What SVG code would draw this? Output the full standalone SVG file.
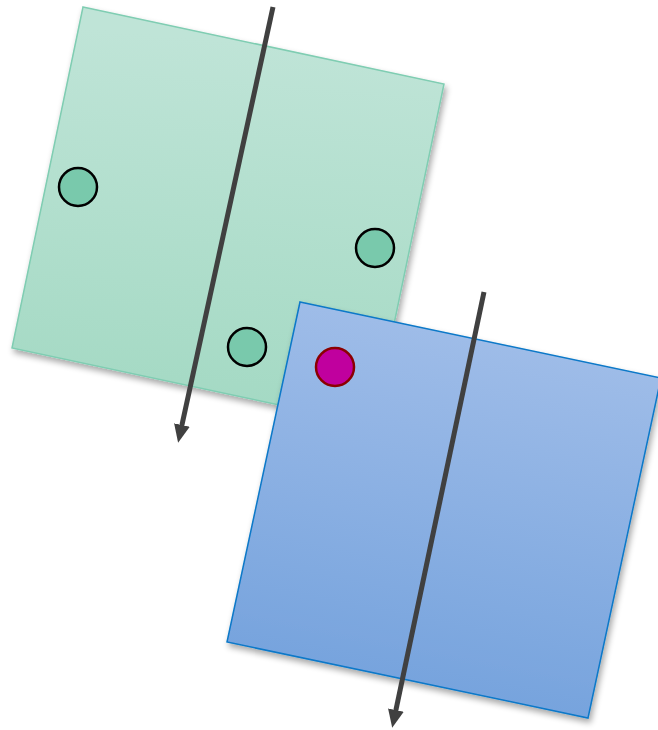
<svg xmlns="http://www.w3.org/2000/svg" width="658" height="730" viewBox="0 0 658 730">
<defs>
<linearGradient id="gG" gradientUnits="userSpaceOnUse" x1="230" y1="40" x2="200" y2="420">
<stop offset="0" stop-color="#BFE4D7"/><stop offset="1" stop-color="#A3D9C3"/>
</linearGradient>
<linearGradient id="gB" gradientUnits="userSpaceOnUse" x1="480" y1="340" x2="410" y2="690">
<stop offset="0" stop-color="#9EBCE8"/><stop offset="1" stop-color="#76A3DD"/>
</linearGradient>
<filter id="sh" x="-10%" y="-10%" width="125%" height="125%">
<feGaussianBlur in="SourceAlpha" stdDeviation="3"/>
<feOffset dx="2" dy="4" result="b"/>
<feComponentTransfer><feFuncA type="linear" slope="0.35"/></feComponentTransfer>
<feMerge><feMergeNode/><feMergeNode in="SourceGraphic"/></feMerge>
</filter>
<marker id="ah" markerUnits="userSpaceOnUse" markerWidth="20" markerHeight="20" refX="2" refY="8" orient="auto" viewBox="0 0 20 16">
<path d="M0,0 L18,8 L0,16 Z" fill="#404040"/>
</marker>
<style>
.arr{stroke:#404040;stroke-width:5;fill:none}
.gc{fill:#79C9AC;stroke:#000;stroke-width:2.5}
</style>
</defs>
<g id="green-plane">
<polygon points="83,7 444,84 373,425 12,348" fill="url(#gG)" stroke="#7FCDB2" stroke-width="1.5" filter="url(#sh)"/>
</g>
<g id="connectors-green">
<line class="arr" x1="273" y1="7" x2="181.5" y2="427" marker-end="url(#ah)"/>
</g>
<g id="green-circle-1"><circle class="gc" cx="78" cy="187" r="19"/></g>
<g id="green-circle-2"><circle class="gc" cx="375" cy="248" r="19"/></g>
<g id="green-circle-3"><circle class="gc" cx="247" cy="347" r="19"/></g>
<g id="blue-plane">
<polygon points="300,302 661,378 588,718 227,642" fill="url(#gB)" stroke="#0A78C8" stroke-width="1.5" filter="url(#sh)"/>
</g>
<g id="connectors-blue">
<line class="arr" x1="484" y1="292" x2="395.5" y2="712" marker-end="url(#ah)"/>
</g>
<g id="magenta-circle"><circle cx="335" cy="367" r="19" fill="#C0009E" stroke="#8B0000" stroke-width="2.5"/></g>
</svg>
